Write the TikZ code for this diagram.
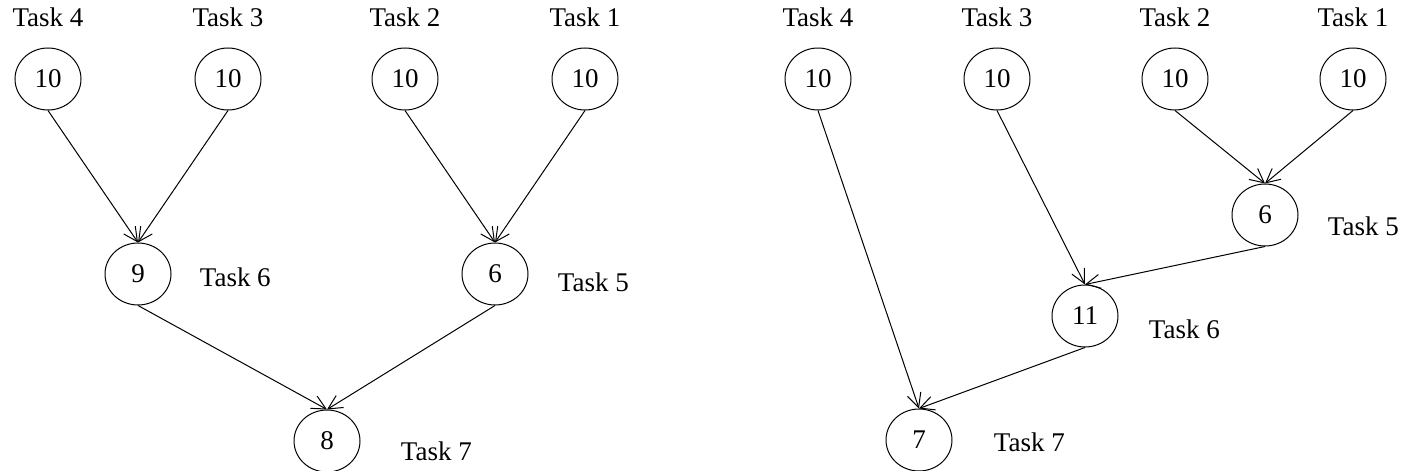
\documentclass[tikz,border=0pt]{standalone}
\usepackage{fontspec}
\setmainfont{Liberation Serif}
\usetikzlibrary{positioning}
\usetikzlibrary{shapes.geometric}
\usetikzlibrary{arrows.meta}

\tikzset{
	task/.style={ellipse, draw, line width=0.5pt, minimum width=33pt, minimum height=31pt, inner sep=0pt, font=\fontsize{13.5}{15}\selectfont},
	tasklabel/.style={inner sep=0pt, font=\fontsize{13.5}{15}\selectfont},
	dep/.style={line width=0.5pt, -{Straight Barb[length=7pt, width=7pt]}}
}

\begin{document}
\begin{tikzpicture}[x=0.5pt, y=-0.5pt]
	\useasboundingbox (0,0) rectangle (1410,471);

	% left tree
	\node[task] (l4) at (48,79) {10};
	\node[task] (l3) at (228,79) {10};
	\node[task] (l2) at (405,79) {10};
	\node[task] (l1) at (585,79) {10};
	\node[task] (l6) at (138,274) {9};
	\node[task] (l5) at (495,274) {6};
	\node[task] (l7) at (327,441) {8};

	\node[tasklabel, above = 10pt of l4] (l4t) {Task 4};
	\node[tasklabel, above = 10pt of l3] (l3t) {Task 3};
	\node[tasklabel, above = 10pt of l2] (l2t) {Task 2};
	\node[tasklabel, above = 10pt of l1] (l1t) {Task 1};
	\node[tasklabel, right = 14pt of l6, yshift=-1.5pt] (l6t) {Task 6};
	\node[tasklabel, right = 14.5pt of l5, yshift=-4pt] (l5t) {Task 5};
	\node[tasklabel, right = 20pt of l7, yshift=-5pt] (l7t) {Task 7};

	\draw[dep] (l4.south) -- (l6.north);
	\draw[dep] (l3.south) -- (l6.north);
	\draw[dep] (l2.south) -- (l5.north);
	\draw[dep] (l1.south) -- (l5.north);
	\draw[dep] (l6.south) -- (l7.north);
	\draw[dep] (l5.south) -- (l7.north);

	% right tree
	\node[task] (r4) at (818,79) {10};
	\node[task] (r3) at (997,79) {10};
	\node[task] (r2) at (1175,79) {10};
	\node[task] (r1) at (1353,79) {10};
	\node[task] (r5) at (1265,215) {6};
	\node[task] (r6) at (1085,316) {11};
	\node[task] (r7) at (919,440) {7};

	\node[tasklabel, above = 10pt of r4] (r4t) {Task 4};
	\node[tasklabel, above = 10pt of r3] (r3t) {Task 3};
	\node[tasklabel, above = 10pt of r2] (r2t) {Task 2};
	\node[tasklabel, above = 10pt of r1] (r1t) {Task 1};
	\node[tasklabel, right = 14.5pt of r5, yshift=-5.5pt] (r5t) {Task 5};
	\node[tasklabel, right = 15pt of r6, yshift=-6.5pt] (r6t) {Task 6};
	\node[tasklabel, right = 20.5pt of r7, yshift=-1pt] (r7t) {Task 7};

	\draw[dep] (r4.south) -- (r7.north);
	\draw[dep] (r3.south) -- (r6.north);
	\draw[dep] (r2.south) -- (r5.north);
	\draw[dep] (r1.south) -- (r5.north);
	\draw[dep] (r5.south) -- (r6.north);
	\draw[dep] (r6.south) -- (r7.north);
\end{tikzpicture}
\end{document}
